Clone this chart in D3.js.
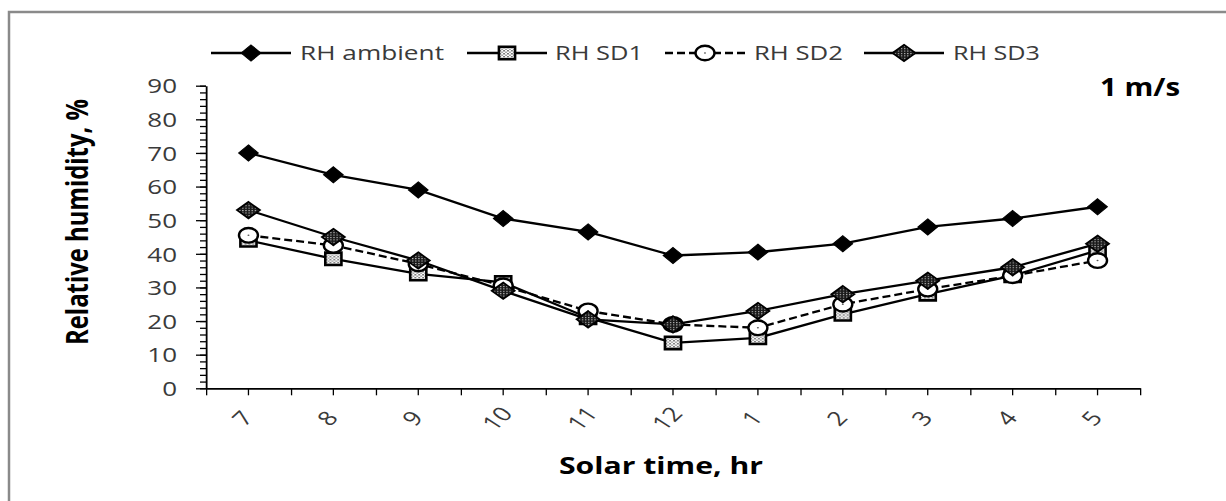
<!DOCTYPE html>
<html>
<head>
<meta charset="utf-8">
<script src="https://cdn.jsdelivr.net/npm/d3@7/dist/d3.min.js"></script>
<style>
  html, body { margin: 0; padding: 0; background: #fff; }
  svg { display: block; }
</style>
</head>
<body>
<script>
// ---------- data ----------
const categories = ["7", "8", "9", "10", "11", "12", "1", "2", "3", "4", "5"];
const rhAmbient = [70, 63.5, 59, 50.5, 46.5, 39.5, 40.5, 43, 48, 50.5, 54];
const rhSD1 = [44, 38.5, 34, 31.5, 21, 13.5, 15, 22, 28, 33.5, 41];
const rhSD2 = [45.5, 42.5, 37, 30.5, 23, 19, 18, 25, 29.5, 33.5, 38];
const rhSD3 = [53, 45, 38, 29, 20.5, 19, 23, 28, 32, 36, 43];
const seriesNames = ["RH ambient", "RH SD1", "RH SD2", "RH SD3"];
const yTicks = [0, 10, 20, 30, 40, 50, 60, 70, 80, 90];
const yMinorTicks = d3.range(0, 91, 2);

// ---------- layout ----------
const W = 1226, H = 501;
const SX = 1.3;                 // horizontal stretch of the original picture
const px = v => v / SX;         // screen x -> internal x

const svg = d3.select("body").append("svg").attr("width", W).attr("height", H);

// outer frame (left & top visible)
svg.append("rect")
  .attr("x", 9).attr("y", 12).attr("width", 1400).attr("height", 700)
  .attr("fill", "none").attr("stroke", "#8a8a8a").attr("stroke-width", 2.5);

const g = svg.append("g").attr("transform", `scale(${SX},1)`);

// patterns
const defs = svg.append("defs");
const p1 = defs.append("pattern").attr("id", "pSD1").attr("patternUnits", "userSpaceOnUse")
  .attr("width", 3).attr("height", 3);
p1.append("rect").attr("width", 3).attr("height", 3).attr("fill", "#fff");
p1.append("rect").attr("width", 1.5).attr("height", 1.5).attr("fill", "#7a7a7a");
p1.append("rect").attr("x", 1.5).attr("y", 1.5).attr("width", 1.5).attr("height", 1.5).attr("fill", "#a8a8a8");
const p3 = defs.append("pattern").attr("id", "pSD3").attr("patternUnits", "userSpaceOnUse")
  .attr("width", 2.4).attr("height", 2.4);
p3.append("rect").attr("width", 2.4).attr("height", 2.4).attr("fill", "#1a1a1a");
p3.append("rect").attr("width", 1).attr("height", 1).attr("fill", "#bdbdbd");

// scales
const x = d3.scaleBand().domain(categories).range([px(206), px(1140)]).padding(0);
const y = d3.scaleLinear().domain([0, 90]).range([388.3, 85.7]);
const cx = c => x(c) + x.bandwidth() / 2;
const xEdge = d3.scaleLinear().domain([0, categories.length]).range(x.range());

const axisColor = "#000";
const textColor = "#3a3a3a";
const fontFam = "'Open Sans', 'DejaVu Sans', sans-serif";

// y axis minor ticks
const yMinor = g.append("g").attr("transform", `translate(${px(206)},0)`)
  .call(d3.axisLeft(y).tickValues(yMinorTicks).tickSize(px(6)).tickSizeOuter(0).tickFormat(""));
yMinor.select(".domain").remove();
// y axis major
const yAx = g.append("g").attr("transform", `translate(${px(206)},0)`)
  .call(d3.axisLeft(y).tickValues(yTicks).tickSize(px(10)).tickSizeOuter(0).tickPadding(px(19)));
g.selectAll(".tick line").attr("stroke", axisColor).attr("stroke-width", 1.3).attr("vector-effect", "non-scaling-stroke");
yAx.select(".domain").attr("stroke", axisColor).attr("stroke-width", 1.8).attr("vector-effect", "non-scaling-stroke");
yAx.selectAll(".tick text")
  .attr("font-family", fontFam).attr("font-size", 20).attr("fill", textColor).attr("dy", "0.36em");

// x axis: edge ticks and center ticks
const xEdgeAx = g.append("g").attr("transform", `translate(0,${y(0)})`)
  .call(d3.axisBottom(xEdge).tickValues(d3.range(categories.length + 1)).tickSize(7).tickSizeOuter(0).tickFormat(""));
xEdgeAx.select(".domain").attr("stroke", axisColor).attr("stroke-width", 1.8).attr("vector-effect", "non-scaling-stroke");
const xAx = g.append("g").attr("transform", `translate(0,${y(0)})`)
  .call(d3.axisBottom(x).tickSize(7).tickSizeOuter(0));
xAx.select(".domain").remove();
g.selectAll(".tick line").attr("stroke", axisColor).attr("stroke-width", 1.3).attr("vector-effect", "non-scaling-stroke");
xAx.selectAll(".tick text")
  .attr("y", null).attr("dy", "0.36em")
  .attr("transform", `translate(${px(-6)},30) rotate(-50)`)
  .attr("text-anchor", "middle")
  .attr("font-family", fontFam).attr("font-size", 20).attr("fill", textColor);

// axis titles
g.append("text")
  .attr("x", px(661)).attr("y", 474)
  .attr("text-anchor", "middle")
  .attr("font-family", fontFam).attr("font-weight", "bold").attr("font-size", 23)
  .attr("textLength", px(204)).attr("lengthAdjust", "spacingAndGlyphs")
  .attr("fill", "#000").text("Solar time, hr");
g.append("text")
  .attr("transform", `translate(${px(88)},222) rotate(-90)`)
  .attr("text-anchor", "middle")
  .attr("font-family", fontFam).attr("font-weight", "bold").attr("font-size", 23)
  .attr("textLength", 246).attr("lengthAdjust", "spacingAndGlyphs")
  .attr("fill", "#000").text("Relative humidity, %");

// "1 m/s"
g.append("text")
  .attr("x", px(1100)).attr("y", 96)
  .attr("font-family", fontFam).attr("font-weight", "bold").attr("font-size", 25)
  .attr("textLength", px(80)).attr("lengthAdjust", "spacingAndGlyphs")
  .attr("fill", "#000").text("1 m/s");

// marker drawing
function drawMarker(sel, kind) {
  if (kind === 0) {
    sel.append("path").attr("d", "M0,-8L7.5,0L0,8L-7.5,0Z")
      .attr("fill", "#000").attr("stroke", "#000").attr("stroke-width", 1);
  } else if (kind === 1) {
    sel.append("rect").attr("x", -6.2).attr("y", -6.2).attr("width", 12.4).attr("height", 12.4)
      .attr("fill", "url(#pSD1)").attr("stroke", "#000").attr("stroke-width", 2.6)
      .attr("vector-effect", "non-scaling-stroke");
  } else if (kind === 2) {
    sel.append("circle").attr("r", 7.3)
      .attr("fill", "#fff").attr("stroke", "#000").attr("stroke-width", 2.4)
      .attr("vector-effect", "non-scaling-stroke");
    sel.append("circle").attr("r", 0.8).attr("fill", "#555");
  } else {
    sel.append("path").attr("d", "M0,-8.2L8.8,0L0,8.2L-8.8,0Z")
      .attr("fill", "url(#pSD3)").attr("stroke", "#000").attr("stroke-width", 1.8)
      .attr("vector-effect", "non-scaling-stroke");
  }
}

// series
const allSeries = [rhAmbient, rhSD1, rhSD2, rhSD3];
const line = d3.line().x(d => cx(d.c)).y(d => y(d.v));
allSeries.forEach((vals, k) => {
  const pts = categories.map((c, i) => ({ c, v: vals[i] }));
  g.append("path").datum(pts).attr("d", line)
    .attr("fill", "none").attr("stroke", "#000").attr("stroke-width", 2.3)
    .attr("stroke-dasharray", k === 2 ? "8,4" : null)
    .attr("vector-effect", "non-scaling-stroke");
  g.append("g").selectAll("g").data(pts).join("g")
    .attr("transform", d => `translate(${cx(d.c)},${y(d.v)})`)
    .each(function () { drawMarker(d3.select(this), k); });
});

// legend
const legendCenters = [251, 507, 705, 904];
const legendTextX = [300, 555, 754, 953];
const legendTextW = [144, 88, 89, 87];
seriesNames.forEach((name, k) => {
  const lg = g.append("g");
  lg.append("line")
    .attr("x1", px(legendCenters[k] - 40)).attr("x2", px(legendCenters[k] + 40))
    .attr("y1", 53).attr("y2", 53)
    .attr("stroke", "#000").attr("stroke-width", 2.3)
    .attr("stroke-dasharray", k === 2 ? "8,4" : null)
    .attr("vector-effect", "non-scaling-stroke");
  const m = lg.append("g").attr("transform", `translate(${px(legendCenters[k])},53)`);
  drawMarker(m, k);
  lg.append("text")
    .attr("x", px(legendTextX[k])).attr("y", 60)
    .attr("font-family", fontFam).attr("font-size", 20.5)
    .attr("textLength", px(legendTextW[k])).attr("lengthAdjust", "spacingAndGlyphs")
    .attr("fill", textColor).text(name);
});
</script>
</body>
</html>
